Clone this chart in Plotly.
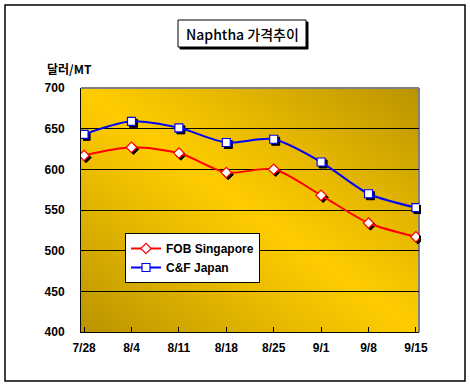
import zlib, struct, base64
import plotly.graph_objects as go

# ---- data ----
dates = ["7/28", "8/4", "8/11", "8/18", "8/25", "9/1", "9/8", "9/15"]
fob_singapore = [617, 627, 620, 596, 600, 568, 534, 517]
cf_japan = [643, 659, 651, 633, 637, 609, 570, 553]
y_ticks = [400, 450, 500, 550, 600, 650, 700]

# ---- geometry (pixels) ----
W, H = 470, 386
L, T = 81, 88
PW, PH = 340, 246          # paper size (plot 338x244 + 2px shadow shift)
R, B = W - L - PW, H - T - PH
SX, SY = 2 / PW, 2 / PH     # shadow shift in paper units


def px(x):
    return (x - L) / PW


def py(y):
    return (T + PH - y) / PH


# ---- gradient background png ----
def make_png(w, h):
    bright = (255, 204, 0)
    dark = (186, 148, 0)
    raw = bytearray()
    for j in range(h):
        raw.append(0)
        v = 1 - j / (h - 1)
        for i in range(w):
            u = i / (w - 1)
            t = abs(u + v - 1)
            t = t ** 1.1
            raw.extend(int(round(bright[k] * (1 - t) + dark[k] * t)) for k in range(3))

    def chunk(tag, data):
        return (struct.pack(">I", len(data)) + tag + data
                + struct.pack(">I", zlib.crc32(tag + data) & 0xffffffff))

    png = (b"\x89PNG\r\n\x1a\n"
           + chunk(b"IHDR", struct.pack(">IIBBBBB", w, h, 8, 2, 0, 0, 0))
           + chunk(b"IDAT", zlib.compress(bytes(raw), 9))
           + chunk(b"IEND", b""))
    return "data:image/png;base64," + base64.b64encode(png).decode()


bg = make_png(169, 122)

fig = go.Figure()

# shadows (subplot xy, shifted)
for vals, sym in [(cf_japan, "square"), (fob_singapore, "diamond")]:
    fig.add_trace(go.Scatter(
        x=dates, y=vals, mode="markers", xaxis="x", yaxis="y",
        marker=dict(symbol=sym, size=8, color="black", line=dict(width=1, color="black")),
        showlegend=False, hoverinfo="skip"))

# main series (subplot x2y2)
fig.add_trace(go.Scatter(
    x=dates, y=fob_singapore, name="FOB Singapore", mode="lines+markers",
    xaxis="x2", yaxis="y2",
    line=dict(color="#FF0000", width=2, shape="spline", smoothing=0.8),
    marker=dict(symbol="diamond", size=8, color="white", line=dict(width=1.2, color="#FF0000"))))
fig.add_trace(go.Scatter(
    x=dates, y=cf_japan, name="C&F Japan", mode="lines+markers",
    xaxis="x2", yaxis="y2",
    line=dict(color="#0000FF", width=2, shape="spline", smoothing=0.8),
    marker=dict(symbol="square", size=8, color="white", line=dict(width=1.2, color="#0000FF"))))

xr = [-0.065, 7.065]
yr = [400, 700]
tickfont = dict(family="Liberation Sans, Arial", size=12, color="black", weight="bold")

fig.update_layout(
    width=W, height=H,
    margin=dict(l=L, r=R, t=T, b=B, pad=0),
    paper_bgcolor="white", plot_bgcolor="rgba(0,0,0,0)",
    showlegend=True,
    legend=dict(
        x=px(125), y=py(233), xanchor="left", yanchor="top",
        bgcolor="white", bordercolor="black", borderwidth=1,
        font=dict(family="Liberation Sans, Arial", size=12, color="black", weight="bold"),
        itemwidth=30, tracegroupgap=0),
    xaxis=dict(domain=[SX, 1], anchor="y", type="category", range=xr, visible=False, fixedrange=True),
    yaxis=dict(domain=[0, 1 - SY], anchor="x", range=yr, visible=False, fixedrange=True),
    xaxis2=dict(domain=[0, 1 - SX], anchor="y2", type="category", range=xr,
                showgrid=False, showline=True, linecolor="black", linewidth=1,
                ticks="inside", ticklen=5, tickcolor="black", tickwidth=1,
                tickfont=tickfont, ticklabelstandoff=5, zeroline=False, fixedrange=True),
    yaxis2=dict(domain=[SY, 1], anchor="x2", range=yr, tickvals=y_ticks,
                showgrid=True, gridcolor="black", gridwidth=1,
                showline=True, linecolor="black", linewidth=1,
                ticks="", tickfont=tickfont, ticklabelstandoff=13, zeroline=False, fixedrange=True),
    images=[dict(source=bg, xref="paper", yref="paper", x=0, y=1, sizex=1 - SX, sizey=1 - SY,
                 xanchor="left", yanchor="top", sizing="stretch", layer="below")],
    shapes=[
        # plot area top & right border (grey)
        dict(type="line", xref="x2 domain", yref="y2 domain", x0=0, x1=1, y0=1, y1=1,
             line=dict(color="#808080", width=2), layer="below"),
        dict(type="line", xref="x2 domain", yref="y2 domain", x0=1, x1=1, y0=0, y1=1,
             line=dict(color="#808080", width=2), layer="below"),
        # chart frame
        dict(type="rect", xref="paper", yref="paper", x0=px(5), x1=px(465), y0=py(381), y1=py(5),
             line=dict(color="black", width=1.5), fillcolor="rgba(0,0,0,0)"),
        # title box shadow + box
        dict(type="rect", xref="paper", yref="paper", x0=px(180), x1=px(308), y0=py(49), y1=py(22),
             line=dict(color="black", width=1), fillcolor="black"),
        dict(type="rect", xref="paper", yref="paper", x0=px(178), x1=px(306), y0=py(47), y1=py(20),
             line=dict(color="black", width=1), fillcolor="white"),
    ],
    annotations=[
        dict(text="Naphtha 가격추이", xref="paper", yref="paper", x=px(242), y=py(33.5),
             xanchor="center", yanchor="middle", showarrow=False,
             font=dict(family="Noto Sans CJK KR", size=14, color="black", weight=500)),
        dict(text="달러/MT", xref="paper", yref="paper", x=px(45), y=py(68),
             xanchor="left", yanchor="middle", showarrow=False,
             font=dict(family="Noto Sans CJK KR", size=12, color="black", weight="bold")),
    ],
)

fig.write_html("out.html", config={"displayModeBar": False, "staticPlot": True},
               post_script="document.body.style.margin='0';")
